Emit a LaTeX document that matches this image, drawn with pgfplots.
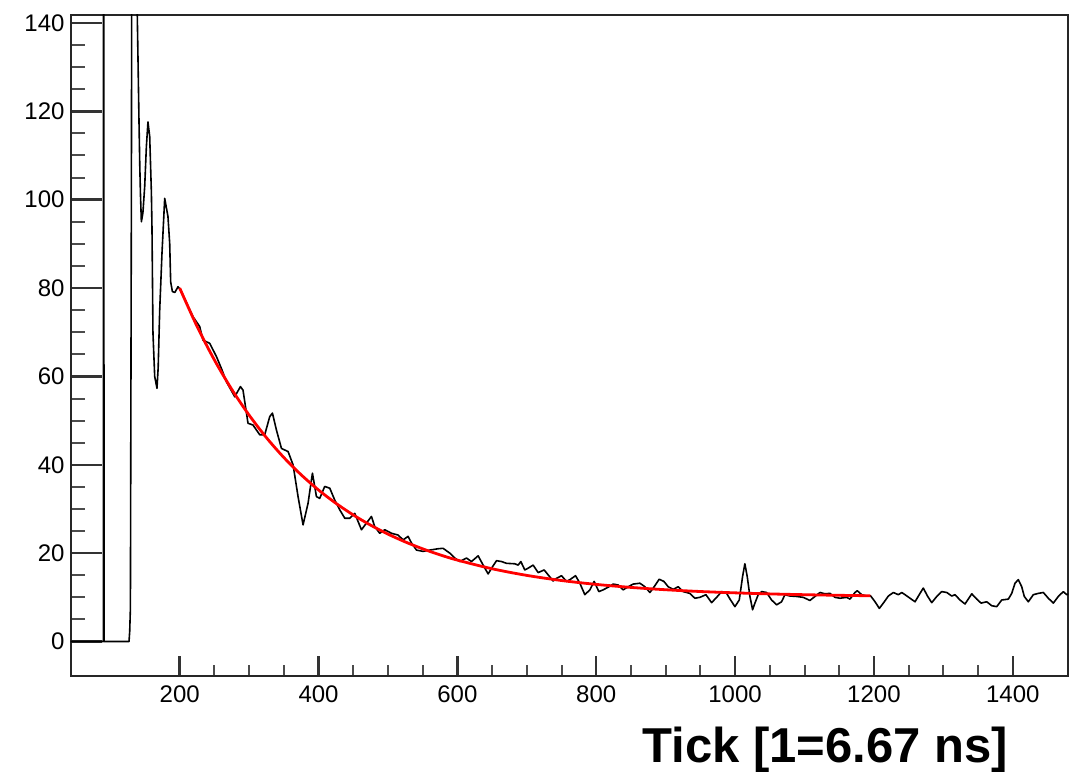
\documentclass[border=0pt]{standalone}
\usepackage{fontspec}
\setmainfont{Liberation Sans}
\usepackage{pgfplots}
\pgfplotsset{compat=1.18}
\begin{document}
\begin{tikzpicture}
\useasboundingbox (-70.7pt,-95pt) rectangle (1007.3pt,676pt);
\pgfplotsset{
  common/.style={
    at={(0,0)}, anchor=south west,
    scale only axis, width=997.6pt, height=661pt,
    xmin=43, xmax=1480, ymin=-7.8, ymax=141.8,
    tick align=inside,
    axis line style={line width=2pt, black!85},
    major tick style={line width=2.4pt, black!80},
    minor tick style={line width=2pt, black!70},
    /pgf/number format/assume math mode=true,
    /pgf/number format/1000 sep={},
    tick label style={font=\fontsize{24}{28}\selectfont, inner sep=0pt},
  }
}
% x ticks
\begin{axis}[common,
  ytick=\empty,
  xtick={200,400,...,1400}, minor x tick num=3, xtick pos=left,
  major tick length=20pt, minor tick length=11pt,
  xticklabel style={yshift=-10pt},
  xlabel={Tick [1=6.67 ns]},
  xlabel style={at={(axis description cs:0.9396,-0.131)}, anchor=base east, inner sep=0pt,
    font=\fontsize{49}{56}\selectfont\bfseries},
]
\end{axis}
% y ticks, data
\begin{axis}[common,
  xtick=\empty,
  ytick={0,20,...,140}, minor y tick num=3, ytick pos=left,
  major tick length=31pt, minor tick length=14pt,
  yticklabel style={xshift=-6pt},
]
\addplot[black, line width=1.6pt, line join=round] coordinates {
(40,0) (90,0) (90.5,300) (91,0) (127,0) (128,2.3) (129,7.5) (130.4,99.7) (131,160) (137,160)
(140,131.3) (141.4,117.6) (142.5,107.8) (143.5,101.2) (144.8,95.0) (147,97) (149.6,103) (152,112)
(154.3,117.6) (156.8,114.3) (159.2,101.8) (160.1,93.5) (161.5,69.8) (164,60) (167.3,57.3) (169,62)
(171.2,75) (174.5,87.9) (178.4,100.3) (183.1,96.2) (185.6,90.1) (187,81.4) (189.5,79.2) (193,79.0)
(197.6,80.3) (201,79.6) (219.2,73.5) (228.8,71.3) (233.6,68.2) (243.2,67.5) (252.9,64.5) (260.1,61.8)
(267.3,58.8) (279.3,55.4) (287.5,57.7) (291.2,56.9) (298.4,49.4) (305.6,49.0) (315.3,46.8) (322.5,46.8)
(329.7,50.9) (333.6,51.7) (339.3,47.9) (346.6,43.7) (356.1,43.0) (363.3,40.0) (370.5,32.8) (377.7,26.4)
(384.9,31.3) (391.2,38.1) (397.0,32.8) (401.7,32.4) (408.9,35.1) (416.2,34.7) (423.4,32.0) (430.6,29.8)
(437.8,27.9) (445.0,27.9) (452.2,29.0) (461.8,25.3) (469.0,26.8) (476.2,28.3) (481.0,26.0) (488.2,24.5)
(495.4,25.3) (505.1,24.5) (514.6,24.1) (521.8,23.0) (529.0,23.8) (533.9,22.3) (541.1,20.7) (550.6,20.4)
(560.3,20.7) (572.2,21.0) (579.4,21.1) (589.1,20.0) (596.3,18.9) (603.5,18.1) (613.1,18.9) (620.3,18.1)
(629.9,19.4) (637.1,17.3) (644.3,15.3) (649.2,16.6) (656.4,18.3) (663.6,18.1) (670.8,17.7) (682.7,17.6)
(687.5,17.3) (691.4,18.1) (697.1,16.2) (701.9,16.6) (709.1,17.3) (716.3,15.6) (725.0,16.2) (730.7,15.1)
(737.9,13.7) (742.8,14.3) (750.0,14.9) (757.2,13.6) (762.0,14.0) (770.2,14.9) (776.4,13.2) (783.6,10.6)
(790.8,11.7) (797.0,13.6) (803.8,11.3) (810.0,11.7) (817.2,12.3) (824.4,13.0) (831.6,12.8) (838.8,11.7)
(846.0,12.4) (853.2,13.0) (862.9,13.2) (870.1,12.4) (877.3,11.1) (882.1,12.1) (890.7,14.1) (897.5,13.6)
(903.7,12.4) (910.9,11.8) (918.0,12.4) (925.3,11.3) (934.9,10.9) (942.1,9.8) (949.3,10.0) (958.0,10.6)
(966.2,8.8) (973.4,10.0) (980.6,11.3) (987.8,10.9) (993.5,9.4) (999.8,7.9) (1006.0,9.4) (1010.8,14.7)
(1014.1,17.6) (1017.5,14.7) (1021.4,10.2) (1025.2,7.2) (1028.6,8.7) (1033.3,10.6) (1038.2,11.3) (1045.4,11.1)
(1052.6,9.4) (1059.8,8.3) (1067.0,9.0) (1071.8,10.6) (1079.0,10.3) (1088.7,10.2) (1098.2,10.0) (1107.8,9.3)
(1115.1,10.2) (1122.3,11.1) (1129.5,10.8) (1136.7,10.9) (1143.9,10.0) (1151.1,9.8) (1160.8,10.0) (1165.5,9.6)
(1172.7,11.1) (1176.0,11.5) (1182.4,10.6) (1189.6,10.3) (1195.4,10.3) (1201.6,9.0) (1207.8,7.5) (1213.6,8.7)
(1220.8,10.3) (1228.0,11.1) (1235.2,10.6) (1240.1,11.1) (1244.8,10.6) (1252.0,9.8) (1259.2,9.0) (1266.4,10.9)
(1271.1,12.1) (1277.5,10.2) (1283.3,8.8) (1290.5,10.2) (1297.7,11.3) (1304.9,11.1) (1312.1,10.3) (1316.8,10.6)
(1324.0,9.4) (1331.2,8.5) (1340.9,10.8) (1348.1,9.6) (1354.3,8.7) (1362.5,9.0) (1369.7,8.1) (1376.9,7.9)
(1384.1,9.4) (1393.6,9.6) (1398.5,10.9) (1403.2,13.2) (1408.0,14.0) (1412.9,12.4) (1416.6,10.2) (1422.4,9.0)
(1429.6,10.6) (1436.8,10.9) (1444.0,11.1) (1451.2,9.8) (1458.4,8.7) (1465.6,10.2) (1472.8,11.3) (1477.7,10.6)
(1482,10.8)
};
\addplot[red, line width=2.8pt, smooth] coordinates {
(200,80) (225,71.33) (250,63.73) (275,57.07) (300,51.24) (325,46.13) (350,41.65) (375,37.73)
(400,34.30) (425,31.29) (450,28.65) (475,26.34) (500,24.31) (525,22.54) (550,20.98) (575,19.62)
(600,18.43) (650,16.47) (700,14.97) (750,13.81) (800,12.93) (850,12.25) (900,11.72) (950,11.32)
(1000,11.02) (1050,10.78) (1100,10.60) (1150,10.46) (1195,10.36)
};
\end{axis}
\end{tikzpicture}
\end{document}
